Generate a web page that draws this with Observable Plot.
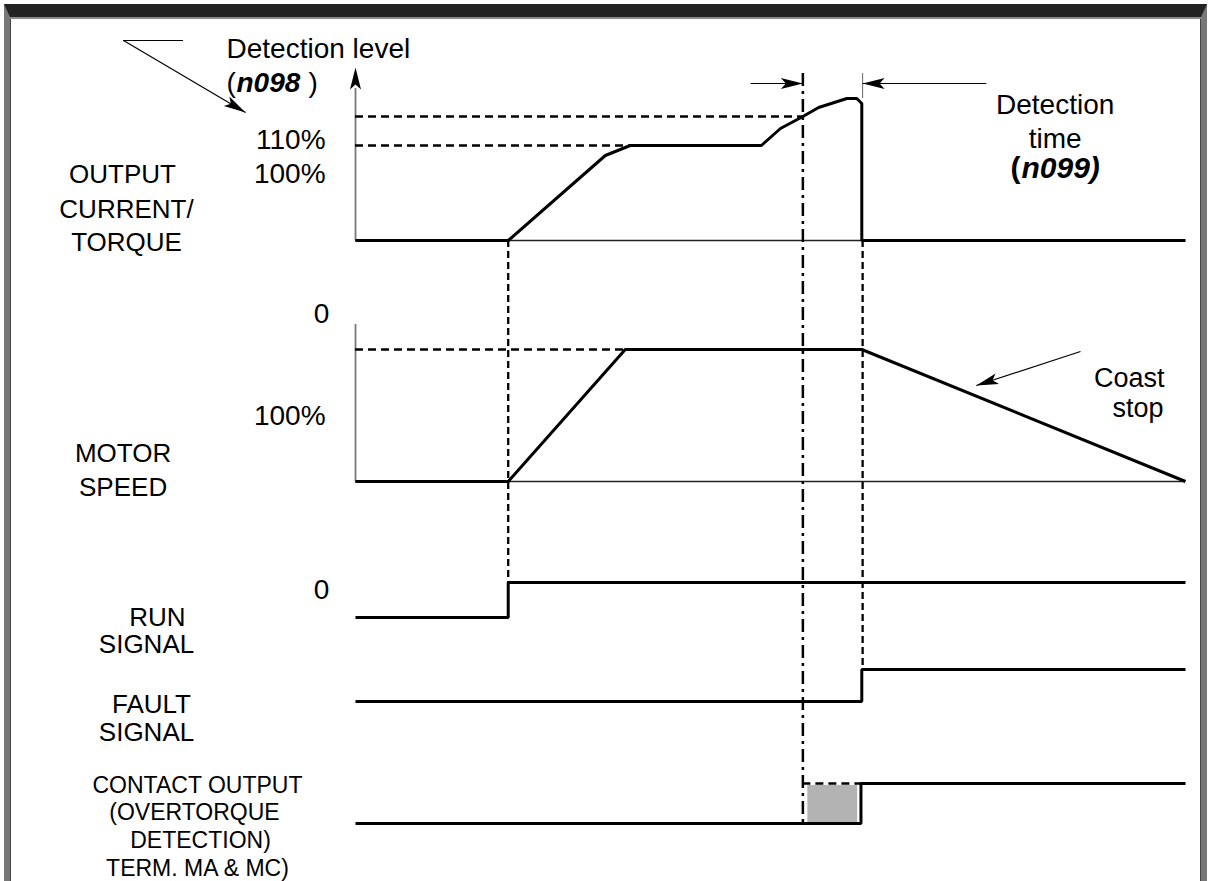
<!DOCTYPE html>
<html>
<head>
<meta charset="utf-8">
<script src="https://cdn.jsdelivr.net/npm/d3@7"></script>
<script src="https://cdn.jsdelivr.net/npm/@observablehq/plot@0.6"></script>
<style>
html,body{margin:0;padding:0;background:#fff;}
body{width:1209px;height:881px;position:relative;overflow:hidden;font-family:"Liberation Sans",Arial,sans-serif;}
#chart{position:absolute;left:0;top:0;}
#frame{position:absolute;left:4px;top:4px;width:1191px;height:864px;border-top:13px solid #222;border-left:6px solid #777;border-right:6px solid #777;pointer-events:none;box-shadow:inset 0 2px 0 #8a8a8a, inset 1px 0 0 #444, inset -1px 0 0 #444;}
</style>
</head>
<body>
<div id="chart"></div>
<div id="frame"></div>
<script>
// ---- timeline (time units 0..100) ----
const tStart = 0, tRunOn = 18.4, tDetect = 53.9, tTrip = 61.0, tEnd = 100;

// output current / torque (diagram height units above lane baseline)
const currentT = [0, 18.4, 30.1, 33.1, 48.9, 51.2, 53.9, 55.8, 59.2, 60.4, 61.0, 61.0, 100];
const currentV = [0, 0, 85, 95, 95, 112, 124, 133, 142, 142, 137, 0, 0];
const level100 = 95, level110 = 124;

// motor speed
const motorT = [0, 18.4, 32.5, 61.0, 100];
const motorV = [0, 0, 132, 132, 0];
const motorTop = 132;

// digital signals (0 = low, 1 = high)
const runT = [0, 18.4, 18.4, 100],     runV = [0, 0, 1, 1];
const faultT = [0, 61.0, 61.0, 100],   faultV = [0, 0, 1, 1];
const contactT = [0, 60.9, 60.9, 100], contactV = [0, 0, 1, 1];

// tick / side labels
const leftTicks = ["110%", "100%", "0", "100%", "0"];
const laneNames = ["OUTPUT", "CURRENT/", "TORQUE", "MOTOR", "SPEED", "RUN", "SIGNAL", "FAULT", "SIGNAL"];
const contactNames = ["CONTACT OUTPUT", "(OVERTORQUE", "DETECTION)", "TERM. MA & MC)"];

// ---- layout ----
const lane = {current: {base: 641}, motor: {base: 400}, run: {base: 264, amp: 35}, fault: {base: 180, amp: 32}, contact: {base: 58, amp: 40}};
const sx = d3.scaleLinear().domain([0, 100]).range([355, 1185]);
const sy = d3.scaleLinear().domain([0, 881]).range([881, 0]);

const mk = (T, V, base, amp = 1) => T.map((t, i) => ({t, h: base + V[i] * amp}));
const current = mk(currentT, currentV, lane.current.base);
const motor = mk(motorT, motorV, lane.motor.base);
const run = mk(runT, runV, lane.run.base, lane.run.amp);
const fault = mk(faultT, faultV, lane.fault.base, lane.fault.amp);
const contact = mk(contactT, contactV, lane.contact.base, lane.contact.amp);

const hRunHigh = lane.run.base + lane.run.amp;
const hFaultHigh = lane.fault.base + lane.fault.amp;
const hContactHigh = lane.contact.base + lane.contact.amp;
const hTop = 808;

// annotation arrows
const arrows = [
  {x1: -27.95, y1: 841, x2: -13.25, y2: 769},
  {x1: 47.6, y1: 798, x2: tDetect, y2: 798},
  {x1: 76.0, y1: 798, x2: tTrip + 0.1, y2: 798},
  {x1: 87.35, y1: 530, x2: 74.8, y2: 496},
  {x1: 0, y1: 793, x2: 0, y2: 814, noLine: true}
];
const heads = arrows.map(a => {
  const dx = sx(a.x2) - sx(a.x1), dy = sy(a.y2) - sy(a.y1);
  return {x: a.x2, y: a.y2, angle: Math.atan2(dx, -dy) * 180 / Math.PI};
});
const dart = {draw(ctx) { ctx.moveTo(0, 0); ctx.lineTo(5.5, 22); ctx.lineTo(0, 17); ctx.lineTo(-5.5, 22); ctx.closePath(); }};

// text placement
const F = "Liberation Sans, Arial, sans-serif";
const textEnd = [
  {x: -3.61, y: 733, s: leftTicks[0]}, {x: -3.61, y: 699, s: leftTicks[1]},
  {x: -3.61, y: 457, s: leftTicks[3]}
];
const coastText = [{x: 97.47, y: 495, s: "Coast"}, {x: 97.35, y: 465, s: "stop"}];
const textMid = [
  {x: -4.1, y: 559, s: leftTicks[2]}, {x: -4.1, y: 283, s: leftTicks[4]},
  {x: 84.3, y: 768, s: "Detection"}, {x: 84.3, y: 734, s: "time"}
];
const laneText = [
  {x: -28.07, y: 699, s: laneNames[0]}, {x: -27.59, y: 664, s: laneNames[1]}, {x: -27.59, y: 631, s: laneNames[2]},
  {x: -28.0, y: 420, s: laneNames[3]}, {x: -28.0, y: 386, s: laneNames[4]},
  {x: -23.86, y: 256, s: laneNames[5]}, {x: -25.18, y: 229, s: laneNames[6]},
  {x: -24.58, y: 169, s: laneNames[7]}, {x: -25.18, y: 141, s: laneNames[8]}
];
const contactText = [
  {x: -19.04, y: 89, s: contactNames[0]}, {x: -19.4, y: 62, s: contactNames[1]},
  {x: -18.67, y: 34, s: contactNames[2]}, {x: -19.04, y: 6, s: contactNames[3]}
];

const thick = {stroke: "black", strokeWidth: 3, strokeLinejoin: "miter", strokeLinecap: "butt"};
const dashed = {stroke: "black", strokeWidth: 2.5, strokeDasharray: "8,5"};

const chart = Plot.plot({
  width: 1209, height: 881, margin: 0,
  x: {domain: [0, 100], range: [355, 1185], axis: null},
  y: {domain: [0, 881], range: [881, 0], axis: null},
  style: {fontFamily: F, background: "white"},
  marks: [
    // axes / baselines
    Plot.ruleY([lane.current.base, lane.motor.base], {x1: tStart, x2: tEnd, stroke: "#222", strokeWidth: 1.3}),
    Plot.ruleX([tStart], {y1: lane.current.base, y2: 793, stroke: "#777", strokeWidth: 1.8}),
    Plot.ruleX([tStart], {y1: lane.motor.base, y2: 557, stroke: "#777", strokeWidth: 1.8}),
    // reference levels
    Plot.ruleY([lane.current.base + level110], {x1: tStart, x2: tDetect, ...dashed}),
    Plot.ruleY([lane.current.base + level100], {x1: tStart, x2: 33.1, ...dashed}),
    Plot.ruleY([lane.motor.base + motorTop], {x1: tStart, x2: 32.5, ...dashed}),
    // gray overtorque box
    Plot.rect([{}], {x1: 54.5, x2: 60.5, y1: 59, y2: 96, fill: "#b3b3b3"}),
    Plot.ruleY([hContactHigh], {x1: tDetect, x2: tTrip, ...dashed}),
    // timing verticals
    Plot.ruleX([tRunOn], {y1: lane.current.base, y2: hRunHigh, stroke: "black", strokeWidth: 2.3, strokeDasharray: "7,4"}),
    Plot.ruleX([tTrip + 0.1], {y1: lane.current.base, y2: hFaultHigh, stroke: "black", strokeWidth: 2.3, strokeDasharray: "7,4"}),
    Plot.ruleX([tTrip + 0.1], {y1: 783, y2: hTop, stroke: "#666", strokeWidth: 1}),
    Plot.ruleX([tDetect], {y1: hTop, y2: lane.contact.base, stroke: "black", strokeWidth: 2.5, strokeDasharray: "13,5,3,5"}),
    // signals
    Plot.line(current, {x: "t", y: "h", ...thick}),
    Plot.line(motor, {x: "t", y: "h", ...thick}),
    Plot.line(run, {x: "t", y: "h", ...thick}),
    Plot.line(fault, {x: "t", y: "h", ...thick}),
    Plot.line(contact, {x: "t", y: "h", ...thick}),
    // annotation arrows
    Plot.ruleY([841], {x1: -27.95, x2: -20.72, stroke: "black", strokeWidth: 1.2}),
    Plot.link(arrows.filter(a => !a.noLine), {x1: "x1", y1: "y1", x2: "x2", y2: "y2", stroke: "black", strokeWidth: 1.2}),
    Plot.dot(heads, {x: "x", y: "y", symbol: dart, rotate: "angle", fill: "black", stroke: "none", r: 5}),
    // texts
    Plot.text([{x: -15.54, y: 824, s: "Detection level"}, {x: -15.54, y: 790, s: "("}, {x: -5.66, y: 790, s: ")"}],
      {x: "x", y: "y", text: "s", textAnchor: "start", lineAnchor: "bottom", fontSize: 28, fill: "black"}),
    Plot.text([{x: -14.34, y: 790, s: "n098"}],
      {x: "x", y: "y", text: "s", textAnchor: "start", lineAnchor: "bottom", fontSize: 28, fontWeight: "bold", fontStyle: "italic", fill: "black"}),
    Plot.text(textEnd, {x: "x", y: "y", text: "s", textAnchor: "end", lineAnchor: "bottom", fontSize: 28, fill: "black"}),
    Plot.text(coastText, {x: "x", y: "y", text: "s", textAnchor: "end", lineAnchor: "bottom", fontSize: 27, fill: "black"}),
    Plot.text(textMid, {x: "x", y: "y", text: "s", textAnchor: "middle", lineAnchor: "bottom", fontSize: 28, fill: "black"}),
    Plot.text([{x: 78.92, y: 704, s: "("}], {x: "x", y: "y", text: "s", textAnchor: "start", lineAnchor: "bottom", fontSize: 30, fontWeight: "bold", fill: "black"}),
    Plot.text([{x: 80.24, y: 704, s: "n099)"}], {x: "x", y: "y", text: "s", textAnchor: "start", lineAnchor: "bottom", fontSize: 30, fontWeight: "bold", fontStyle: "italic", fill: "black"}),
    Plot.text(laneText, {x: "x", y: "y", text: "s", textAnchor: "middle", lineAnchor: "bottom", fontSize: 26, fill: "black"}),
    Plot.text(contactText, {x: "x", y: "y", text: "s", textAnchor: "middle", lineAnchor: "bottom", fontSize: 23, fill: "black"})
  ]
});
document.getElementById("chart").append(chart);
</script>
</body>
</html>
